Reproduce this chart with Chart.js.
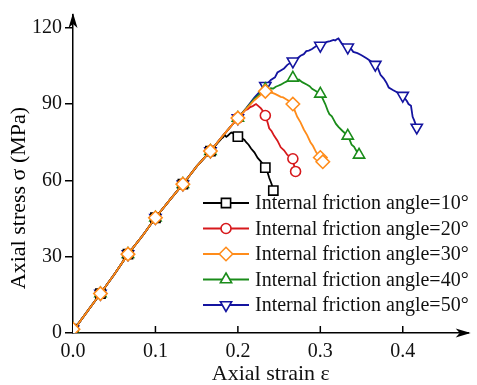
<!DOCTYPE html>
<html>
<head>
<meta charset="utf-8">
<script src="https://cdn.jsdelivr.net/npm/chart.js@4.4.1/dist/chart.umd.min.js"></script>
<style>
  html, body { margin: 0; padding: 0; background: #fff; }
</style>
</head>
<body>
<canvas id="myChart" width="477" height="385"></canvas>
<script>
// shared elastic branch (all five curves lie on it)
var elasticStrain = [0, 0.005, 0.0333, 0.05, 0.0667, 0.085, 0.1, 0.118, 0.1333, 0.15, 0.1667, 0.183, 0.2];
var elasticStress = [1.5, 3, 15.5, 23, 31, 38.5, 45.3, 52.5, 58.5, 65.5, 71.5, 78, 84.5];

// post-elastic parts
var strain10 = [0.175, 0.18, 0.182, 0.184, 0.186, 0.188, 0.19, 0.192, 0.196, 0.2, 0.203, 0.205, 0.208, 0.21, 0.213, 0.216, 0.22, 0.224, 0.228, 0.2333, 0.236, 0.238, 0.241, 0.243];
var stress10 = [74.5, 76.4, 76.9, 77.8, 77.1, 77.6, 78.3, 78.8, 78.2, 77.2, 76.9, 76.5, 75.9, 75, 74, 72.5, 71, 68.8, 67.4, 65, 63.2, 61, 58.5, 56];

var strain20 = [0.206, 0.209, 0.212, 0.215, 0.218, 0.222, 0.225, 0.228, 0.231, 0.2333, 0.236, 0.238, 0.241, 0.244, 0.248, 0.252, 0.256, 0.26, 0.263, 0.2667, 0.268, 0.27];
var stress20 = [86.5, 87.6, 88, 88.8, 89.2, 90, 89.2, 88.3, 87, 85.5, 82.8, 80.5, 79.3, 77.5, 75.6, 73, 71.8, 70, 69.4, 68.5, 66, 63.5];

var strain30 = [0.21, 0.215, 0.22, 0.227, 0.2333, 0.237, 0.24, 0.245, 0.248, 0.252, 0.255, 0.258, 0.262, 0.2667, 0.269, 0.272, 0.276, 0.28, 0.284, 0.288, 0.291, 0.295, 0.3, 0.303];
var stress30 = [88, 89.8, 91.5, 93.4, 95, 94.2, 94.6, 94, 93.5, 92.8, 92.6, 92, 91.2, 90, 87.4, 85, 82.8, 80, 77.8, 75, 73.6, 71, 69, 67.3];

var strain40 = [0.21, 0.22, 0.2333, 0.237, 0.24, 0.243, 0.246, 0.249, 0.252, 0.256, 0.26, 0.263, 0.2667, 0.27, 0.274, 0.278, 0.284, 0.287, 0.29, 0.294, 0.3, 0.303, 0.306, 0.309, 0.311, 0.314, 0.316, 0.319, 0.322, 0.327, 0.3333, 0.336, 0.338, 0.341, 0.343, 0.347];
var stress40 = [88.2, 92, 95.8, 95.6, 96.2, 96.1, 96.8, 97.2, 97.6, 98.4, 99, 99.4, 100.3, 99.2, 99.6, 98.6, 97.6, 97, 96, 95.2, 94, 92, 90, 87.4, 86, 85.2, 84, 82.2, 81, 79.4, 77.5, 75.6, 74, 73.2, 72, 70];

var strain50 = [0.21, 0.22, 0.2333, 0.237, 0.24, 0.245, 0.248, 0.251, 0.256, 0.26, 0.2667, 0.271, 0.276, 0.28, 0.283, 0.286, 0.29, 0.295, 0.3, 0.304, 0.308, 0.312, 0.316, 0.318, 0.32, 0.322, 0.326, 0.3333, 0.337, 0.34, 0.345, 0.35, 0.356, 0.36, 0.3667, 0.37, 0.373, 0.377, 0.38, 0.383, 0.388, 0.393, 0.4, 0.405, 0.407, 0.41, 0.412, 0.414, 0.417];
var stress50 = [88.3, 92.5, 97.2, 98.4, 99.5, 100.5, 102.4, 103, 104, 105.4, 106.8, 107.6, 109, 109.6, 110.8, 111, 111.6, 112.8, 113, 113.6, 114.4, 114.7, 115.2, 115, 115.5, 115.8, 113.8, 112.3, 111.8, 110.5, 110, 109.2, 108, 107.1, 105.5, 104, 101.5, 100, 98.5, 96.5, 95.5, 94.6, 93.3, 91.2, 90, 89.3, 85, 83.5, 80.8];

var angleLabels = ['Internal friction angle=10°', 'Internal friction angle=20°', 'Internal friction angle=30°',
                   'Internal friction angle=40°', 'Internal friction angle=50°'];
var xTicks = [0, 0.1, 0.2, 0.3, 0.4];
var yTicks = [0, 30, 60, 90, 120];

var colors = ['#000000', '#d7191c', '#ff8c1a', '#1a8c1a', '#1414a0'];
var styles = [
  { pointStyle: 'rect', radius: 6.5, rotation: 0 },
  { pointStyle: 'circle', radius: 5, rotation: 0 },
  { pointStyle: 'rectRot', radius: 6.7, rotation: 0 },
  { pointStyle: 'triangle', radius: 6.5, rotation: 0 },
  { pointStyle: 'triangle', radius: 6.5, rotation: 180 }
];
var drawOrder = [1, 2, 0, 3, 4];
var FONT = 'Liberation Serif';

function curve(strainTail, stressTail) {
  var pts = [];
  var start = strainTail[0];
  for (var i = 0; i < elasticStrain.length; i++) {
    if (elasticStrain[i] < start) pts.push({ x: elasticStrain[i], y: elasticStress[i] });
  }
  for (var j = 0; j < strainTail.length; j++) pts.push({ x: strainTail[j], y: stressTail[j] });
  return pts;
}

var curves = [
  curve(strain10, stress10),
  curve(strain20, stress20),
  curve(strain30, stress30),
  curve(strain40, stress40),
  curve(strain50, stress50)
];

// a marker every 1/30 of strain and at the last point
function isMark(ctx) {
  var d = ctx.dataset.data;
  var p = d[ctx.dataIndex];
  if (!p) return false;
  return ctx.dataIndex === d.length - 1 || Math.abs(p.x * 30 - Math.round(p.x * 30)) < 0.02;
}

var datasets = curves.map(function(pts, k) {
  return {
    label: angleLabels[k],
    data: pts,
    showLine: true,
    borderColor: colors[k],
    borderWidth: 1.8,
    backgroundColor: '#ffffff',
    pointBackgroundColor: '#ffffff',
    pointBorderColor: colors[k],
    pointBorderWidth: 1.6,
    pointStyle: styles[k].pointStyle,
    rotation: styles[k].rotation,
    pointRadius: function(ctx) { return isMark(ctx) ? styles[k].radius : 0; },
    pointHoverRadius: 0,
    order: drawOrder[k],
    tension: 0
  };
});

var axesDecor = {
  id: 'axesDecor',
  afterDraw: function(chart) {
    var ctx = chart.ctx;
    var xs = chart.scales.x;
    var left = chart.chartArea.left, bottom = chart.chartArea.bottom;
    var top = chart.chartArea.top, right = chart.chartArea.right;
    ctx.save();
    ctx.strokeStyle = '#000';
    ctx.fillStyle = '#000';
    ctx.lineWidth = 1.5;
    // inward ticks on the strain axis
    xTicks.forEach(function(v) {
      if (v === 0) return;
      var px = xs.getPixelForValue(v);
      ctx.beginPath();
      ctx.moveTo(px, bottom);
      ctx.lineTo(px, bottom - 7);
      ctx.stroke();
    });
    // arrow heads
    ctx.beginPath();
    ctx.moveTo(left, top - 2);
    ctx.lineTo(left - 4.5, top + 13);
    ctx.lineTo(left, top + 9);
    ctx.lineTo(left + 4.5, top + 13);
    ctx.closePath();
    ctx.fill();
    ctx.beginPath();
    ctx.moveTo(right + 2, bottom);
    ctx.lineTo(right - 13, bottom - 4.5);
    ctx.lineTo(right - 9, bottom);
    ctx.lineTo(right - 13, bottom + 4.5);
    ctx.closePath();
    ctx.fill();
    // y title
    ctx.translate(19, 198);
    ctx.rotate(-Math.PI / 2);
    ctx.font = '22px "' + FONT + '"';
    ctx.textAlign = 'center';
    ctx.textBaseline = 'middle';
    ctx.fillText('Axial stress σ (MPa)', 0, 0);
    ctx.restore();

    // legend
    ctx.save();
    ctx.font = '20px "' + FONT + '"';
    ctx.textBaseline = 'middle';
    ctx.textAlign = 'left';
    for (var k = 0; k < angleLabels.length; k++) {
      var yy = 203 + k * 25.5;
      ctx.strokeStyle = colors[k];
      ctx.lineWidth = 1.8;
      ctx.beginPath();
      ctx.moveTo(203, yy);
      ctx.lineTo(249, yy);
      ctx.stroke();
      ctx.fillStyle = '#ffffff';
      ctx.lineWidth = 1.6;
      Chart.helpers.drawPoint(ctx, {
        pointStyle: styles[k].pointStyle,
        radius: styles[k].radius,
        rotation: styles[k].rotation,
        borderWidth: 1.6
      }, 226, yy);
      ctx.fillStyle = '#111';
      ctx.fillText(angleLabels[k], 255, yy + 1);
    }
    ctx.restore();
  }
};

var ctx = document.getElementById('myChart').getContext('2d');
window.myChart = new Chart(ctx, {
  type: 'scatter',
  data: { datasets: datasets },
  options: {
    responsive: false,
    animation: false,
    layout: { padding: { top: 5, right: 3, left: 0, bottom: 0 } },
    plugins: { legend: { display: false }, tooltip: { enabled: false } },
    scales: {
      x: {
        type: 'linear',
        min: 0,
        max: 0.48,
        afterBuildTicks: function(s) { s.ticks = xTicks.map(function(v) { return { value: v }; }); },
        afterFit: function(s) { s.height = 52; },
        ticks: {
          color: '#111',
          font: { family: FONT, size: 20 },
          padding: 7,
          maxRotation: 0,
          callback: function(v) { return v.toFixed(1); }
        },
        grid: { display: false, drawTicks: false },
        border: { display: true, color: '#000', width: 1.5 },
        title: {
          display: true,
          text: 'Axial strain ε',
          color: '#111',
          font: { family: FONT, size: 22, lineHeight: 1 },
          padding: { top: 0, bottom: 0 }
        }
      },
      y: {
        type: 'linear',
        min: 0,
        max: 125,
        afterBuildTicks: function(s) { s.ticks = yTicks.map(function(v) { return { value: v }; }); },
        afterFit: function(s) { s.width = 73; },
        ticks: {
          color: '#111',
          font: { family: FONT, size: 20 },
          padding: 3
        },
        grid: { drawOnChartArea: false, drawTicks: true, tickLength: 8, color: '#000', lineWidth: 1.5 },
        border: { display: true, color: '#000', width: 1.5 }
      }
    }
  },
  plugins: [axesDecor]
});
</script>
</body>
</html>
